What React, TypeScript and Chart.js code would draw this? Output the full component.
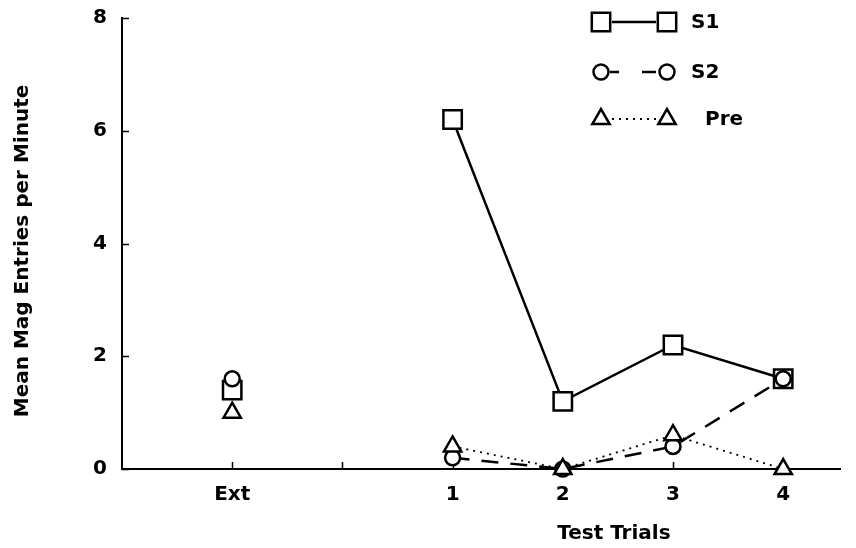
import React, { useEffect, useRef } from 'react';
import { Chart, registerables } from 'chart.js';
import * as helpers from 'chart.js/helpers';

Chart.register(...registerables);

const categories = ['Ext', '', '1', '2', '3', '4'];
const s1Values = [1.4, null, 6.2, 1.2, 2.2, 1.6];
const s2Values = [1.6, null, 0.2, 0, 0.4, 1.6];
const preValues = [1.0, null, 0.4, 0, 0.6, 0];
const yTicks = [0, 2, 4, 6, 8];
const seriesNames = ['S1', 'S2', 'Pre'];
const yTitle = 'Mean Mag Entries per Minute';
const xTitle = 'Test Trials';

const FONT = '"DejaVu Sans", sans-serif';

const toPoints = (vals: (number | null)[]) => vals.map((v, i) => ({ x: i, y: v }));

const innerTicksPlugin = {
  id: 'innerTicks',
  beforeDatasetsDraw(chart: any) {
    const { ctx, chartArea, scales } = chart;
    ctx.save();
    ctx.strokeStyle = '#000';
    ctx.lineWidth = 1.5;
    ctx.beginPath();
    categories.forEach((_, i) => {
      const px = Math.round(scales.x.getPixelForValue(i)) + 0.5;
      ctx.moveTo(px, chartArea.bottom);
      ctx.lineTo(px, chartArea.bottom - 7);
    });
    yTicks.forEach((v) => {
      const py = Math.round(scales.y.getPixelForValue(v)) + 0.5;
      ctx.moveTo(chartArea.left, py);
      ctx.lineTo(chartArea.left + 7, py);
    });
    ctx.stroke();
    ctx.restore();
  },
};

const titlesPlugin = {
  id: 'titles',
  afterDraw(chart: any) {
    const { ctx, scales } = chart;
    ctx.save();
    ctx.fillStyle = '#000';
    ctx.font = `bold 20px ${FONT}`;
    ctx.textAlign = 'center';
    ctx.textBaseline = 'middle';
    const xMid = (scales.x.getPixelForValue(2) + scales.x.getPixelForValue(5)) / 2;
    ctx.fillText(xTitle, xMid - 4, 534);
    ctx.translate(23, 251);
    ctx.rotate(-Math.PI / 2);
    ctx.fillText(yTitle, 0, 0);
    ctx.restore();
  },
};

const legendPlugin = {
  id: 'customLegend',
  afterDraw(chart: any) {
    const { ctx } = chart;
    const rows = [22, 72, 119];
    const textX = [691, 691, 705];
    ctx.save();
    chart.data.datasets.forEach((ds: any, i: number) => {
      const y = rows[i];
      ctx.strokeStyle = '#000';
      ctx.lineWidth = ds.borderWidth;
      ctx.beginPath();
      if (i === 0) {
        ctx.setLineDash([]);
        ctx.moveTo(612, y);
        ctx.lineTo(656, y);
      } else if (i === 1) {
        ctx.setLineDash([]);
        ctx.moveTo(610, y);
        ctx.lineTo(619, y);
        ctx.moveTo(642, y);
        ctx.lineTo(656, y);
      } else {
        ctx.setLineDash(ds.borderDash);
        ctx.moveTo(612, y);
        ctx.lineTo(658, y);
      }
      ctx.stroke();
      ctx.setLineDash([]);
      ctx.fillStyle = '#fff';
      ctx.lineWidth = ds.pointBorderWidth;
      const opts = { pointStyle: ds.pointStyle, radius: ds.pointRadius, rotation: 0, borderWidth: ds.pointBorderWidth };
      helpers.drawPoint(ctx, opts as any, 601, y);
      helpers.drawPoint(ctx, opts as any, 667, y);
      ctx.fillStyle = '#000';
      ctx.font = `bold 20px ${FONT}`;
      ctx.textAlign = 'left';
      ctx.textBaseline = 'middle';
      ctx.fillText(seriesNames[i], textX[i], y + 1);
    });
    ctx.restore();
  },
};

export default function App() {
  const ref = useRef<HTMLCanvasElement | null>(null);
  useEffect(() => {
    document.body.style.margin = '0';
    const canvas = ref.current;
    if (!canvas) return;
    const common = {
      borderColor: '#000',
      pointBorderColor: '#000',
      pointBackgroundColor: '#fff',
      pointBorderWidth: 2.5,
      clip: false,
      spanGaps: false,
      tension: 0,
    };
    const chart = new Chart(canvas, {
      type: 'line',
      data: {
        datasets: [
          { ...common, label: seriesNames[0], data: toPoints(s1Values), borderWidth: 2.5, pointStyle: 'rect', pointRadius: 13, order: 2 },
          { ...common, label: seriesNames[1], data: toPoints(s2Values), borderWidth: 2.5, borderDash: [17, 12], pointStyle: 'circle', pointRadius: 7.5, order: 1 },
          { ...common, label: seriesNames[2], data: toPoints(preValues), borderWidth: 1.8, borderDash: [2, 5], pointStyle: 'triangle', pointRadius: 10, order: 0 },
        ] as any,
      },
      options: {
        animation: false,
        responsive: false,
        devicePixelRatio: 1,
        layout: { padding: { top: 18, right: 10, left: 0, bottom: 0 } },
        plugins: { legend: { display: false }, tooltip: { enabled: false } },
        scales: {
          x: {
            type: 'linear',
            min: -1,
            max: 5.52,
            afterFit: (s: any) => { s.height = 79; s.paddingLeft = 0; s.paddingRight = 0; },
            afterBuildTicks: (s: any) => { s.ticks = categories.map((_, i) => ({ value: i })); },
            grid: { display: false, tickLength: 0 },
            border: { display: true, color: '#000', width: 2 },
            ticks: {
              color: '#000',
              font: { family: FONT, size: 20, weight: 'bold' },
              padding: 14,
              autoSkip: false,
              maxRotation: 0,
              callback: (v: any) => categories[v] ?? '',
            },
          },
          y: {
            type: 'linear',
            min: 0,
            max: 8,
            afterFit: (s: any) => { s.width = 122; s.paddingTop = 0; s.paddingBottom = 0; },
            afterBuildTicks: (s: any) => { s.ticks = yTicks.map((v) => ({ value: v })); },
            grid: { display: false, tickLength: 0 },
            border: { display: true, color: '#000', width: 2 },
            ticks: {
              color: '#000',
              font: { family: FONT, size: 20, weight: 'bold' },
              padding: 15,
              callback: (v: any) => String(v),
            },
          },
        },
      },
      plugins: [innerTicksPlugin, titlesPlugin, legendPlugin],
    } as any);
    return () => chart.destroy();
  }, []);
  return <canvas ref={ref} width={856} height={548} style={{ display: 'block', width: 856, height: 548 }} />;
}
